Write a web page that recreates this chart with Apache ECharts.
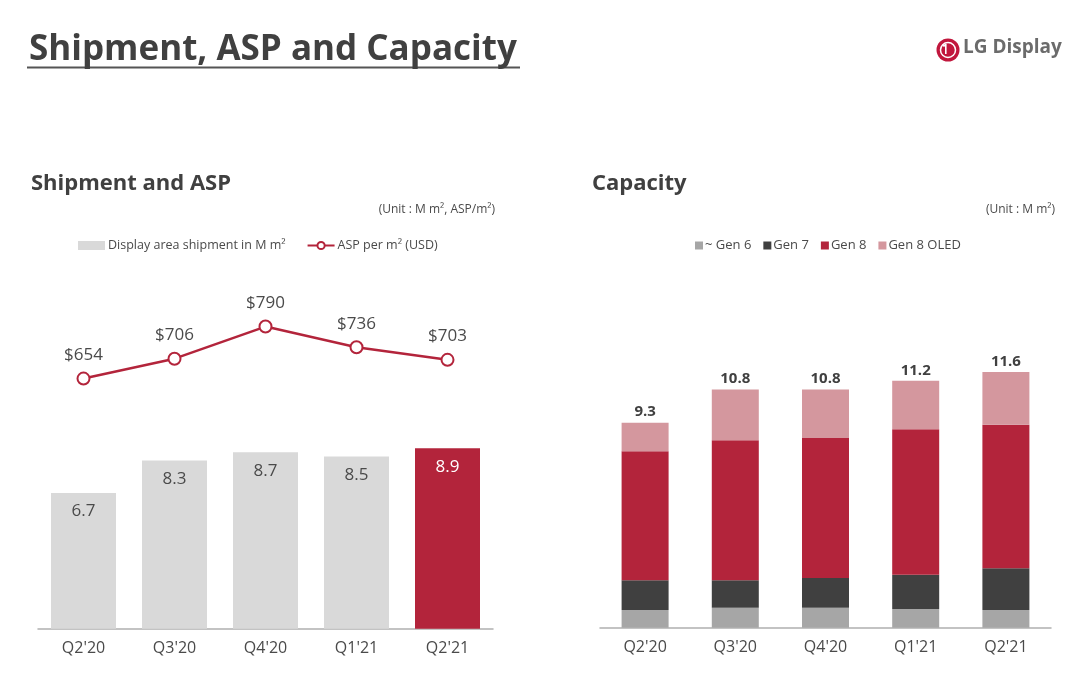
<!DOCTYPE html>
<html>
<head>
<meta charset="utf-8">
<title>Shipment, ASP and Capacity</title>
<script src="https://cdn.jsdelivr.net/npm/echarts@6/dist/echarts.min.js"></script>
<style>
    html, body { margin: 0; padding: 0; background: #fff; }
    #main { width: 1080px; height: 698px; }
</style>
</head>
<body>
<div id="main"></div>
<script>
'use strict';

// quarters
const quarters = ["Q2'20", "Q3'20", "Q4'20", "Q1'21", "Q2'21"];

// shipment (M m2) and ASP (USD/m2)
const shipment = [6.7, 8.3, 8.7, 8.5, 8.9];
const asp = [654, 706, 790, 736, 703];

// capacity by generation (M m2)
const gen6 = [0.8, 0.9, 0.9, 0.85, 0.8];
const gen7 = [1.35, 1.25, 1.35, 1.55, 1.9];
const gen8 = [5.85, 6.35, 6.35, 6.6, 6.5];
const gen8Oled = [1.3, 2.3, 2.2, 2.2, 2.4];
const capacityTotal = [9.3, 10.8, 10.8, 11.2, 11.6];

const RED = '#b3243b';
const FONT = '"Open Sans", "Noto Sans", sans-serif';
const TXT = '#4a4a4a';

const myChart = echarts.init(document.getElementById('main'));

// last quarter highlighted in red
const shipmentData = shipment.map((v, i) => {
    if (i === shipment.length - 1) {
        return { value: v, itemStyle: { color: RED }, label: { color: '#fff' } };
    }
    return v;
});

const xAxisCommon = {
    type: 'category',
    data: quarters,
    axisTick: { show: false },
    axisLine: { lineStyle: { color: '#b0b0b0', width: 1.5 } },
    axisLabel: { color: TXT, fontSize: 16, fontFamily: FONT, margin: 12 }
};

const hiddenY = {
    type: 'value',
    min: 0,
    show: false,
    splitLine: { show: false }
};

const option = {
    backgroundColor: '#fff',
    animation: false,
    textStyle: { fontFamily: FONT },
    title: [
        {
            text: 'Shipment, ASP and Capacity',
            left: 24, top: 28,
            textStyle: { fontSize: 35, fontWeight: 'bold', color: '#404040', fontFamily: FONT }
        },
        {
            text: 'Shipment and ASP',
            left: 26, top: 168,
            textStyle: { fontSize: 22, fontWeight: 'bold', color: '#404040', fontFamily: FONT }
        },
        {
            text: 'Capacity',
            left: 587, top: 168,
            textStyle: { fontSize: 22, fontWeight: 'bold', color: '#404040', fontFamily: FONT }
        },
        {
            text: '(Unit : M m², ASP/m²)',
            right: 580, top: 199,
            textStyle: { fontSize: 12, fontWeight: 'normal', color: TXT, fontFamily: FONT }
        },
        {
            text: '(Unit : M m²)',
            right: 20, top: 199,
            textStyle: { fontSize: 12, fontWeight: 'normal', color: TXT, fontFamily: FONT }
        }
    ],
    legend: [
        {
            left: 73, top: 234,
            itemWidth: 27, itemHeight: 9,
            itemGap: 21,
            textStyle: { fontSize: 12.5, color: TXT, fontFamily: FONT, padding: [0, 0, 0, -2] },
            data: [
                { name: 'Display area shipment in M m²', icon: 'rect' },
                { name: 'ASP per m² (USD)' }
            ]
        },
        {
            left: 690, top: 234,
            itemWidth: 8, itemHeight: 8,
            itemGap: 12,
            icon: 'rect',
            textStyle: { fontSize: 13, color: TXT, fontFamily: FONT, padding: [0, 0, 0, -3] },
            data: ['~ Gen 6', 'Gen 7', 'Gen 8', 'Gen 8 OLED']
        }
    ],
    grid: [
        { left: 38, right: 587, top: 223.3, bottom: 69.3 },
        { left: 600, right: 29, top: 186.7, bottom: 70.3 }
    ],
    xAxis: [
        Object.assign({ gridIndex: 0 }, xAxisCommon),
        Object.assign({ gridIndex: 1 }, xAxisCommon)
    ],
    yAxis: [
        Object.assign({ gridIndex: 0, max: 20 }, hiddenY),
        Object.assign({ gridIndex: 0, max: 1060 }, hiddenY),
        Object.assign({ gridIndex: 1, max: 20 }, hiddenY)
    ],
    series: [
        {
            name: 'Display area shipment in M m²',
            type: 'bar',
            xAxisIndex: 0, yAxisIndex: 0,
            barWidth: 65,
            itemStyle: { color: '#d9d9d9' },
            label: {
                show: true, position: 'insideTop', distance: 10,
                fontSize: 17, color: TXT, fontFamily: FONT
            },
            data: shipmentData
        },
        {
            name: 'ASP per m² (USD)',
            type: 'line',
            xAxisIndex: 0, yAxisIndex: 1,
            symbol: 'emptyCircle',
            symbolSize: 12,
            lineStyle: { color: RED, width: 2.5 },
            itemStyle: { color: RED, borderWidth: 2.5 },
            label: {
                show: true, position: 'top', distance: 8,
                fontSize: 17, color: TXT, fontFamily: FONT,
                formatter: p => '$' + p.value
            },
            z: 5,
            data: asp
        },
        {
            name: '~ Gen 6', type: 'bar', stack: 'cap',
            xAxisIndex: 1, yAxisIndex: 2, barWidth: 47,
            itemStyle: { color: '#a6a6a6' },
            data: gen6
        },
        {
            name: 'Gen 7', type: 'bar', stack: 'cap',
            xAxisIndex: 1, yAxisIndex: 2, barWidth: 47,
            itemStyle: { color: '#404040' },
            data: gen7
        },
        {
            name: 'Gen 8', type: 'bar', stack: 'cap',
            xAxisIndex: 1, yAxisIndex: 2, barWidth: 47,
            itemStyle: { color: RED },
            data: gen8
        },
        {
            name: 'Gen 8 OLED', type: 'bar', stack: 'cap',
            xAxisIndex: 1, yAxisIndex: 2, barWidth: 47,
            itemStyle: { color: '#d4979e' },
            label: {
                show: true, position: 'top', distance: 3,
                fontSize: 15, fontWeight: 'bold', color: '#404040', fontFamily: FONT,
                formatter: p => capacityTotal[p.dataIndex].toFixed(1)
            },
            data: gen8Oled
        }
    ],
    graphic: [
        // underline of the main title
        {
            type: 'rect',
            shape: { x: 27, y: 66.5, width: 493, height: 2 },
            style: { fill: '#555' }
        },
        // LG logo
        {
            type: 'circle',
            shape: { cx: 948, cy: 50, r: 11.5 },
            style: { fill: '#c1173d' }
        },
        {
            type: 'circle',
            shape: { cx: 948, cy: 50, r: 7.5 },
            style: { fill: 'none', stroke: '#fff', lineWidth: 1.5 }
        },
        {
            type: 'rect',
            shape: { x: 945, y: 44, width: 1.6, height: 10 },
            style: { fill: '#fff' }
        },
        {
            type: 'circle',
            shape: { cx: 944, cy: 45.5, r: 1.2 },
            style: { fill: '#fff' }
        },
        {
            type: 'text',
            left: 963, top: 38,
            style: {
                text: 'LG Display',
                fontSize: 19, fontWeight: 'bold', fill: '#6b6b6b',
                fontFamily: FONT
            }
        }
    ]
};

myChart.setOption(option);
</script>
</body>
</html>
